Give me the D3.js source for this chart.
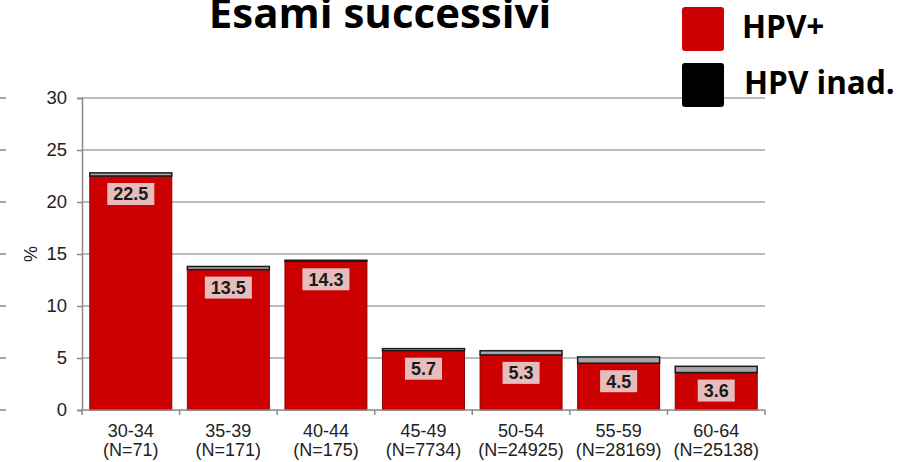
<!DOCTYPE html>
<html>
<head>
<meta charset="utf-8">
<script src="https://cdn.jsdelivr.net/npm/d3@7"></script>
<style>
  html, body { margin: 0; padding: 0; background: #fff; }
  svg { display: block; }
</style>
</head>
<body>
<div id="chart"></div>
<script>
// dati
const categories = ['30-34', '35-39', '40-44', '45-49', '50-54', '55-59', '60-64'];
const nLabels = ['(N=71)', '(N=171)', '(N=175)', '(N=7734)', '(N=24925)', '(N=28169)', '(N=25138)'];
const hpvPos = [22.5, 13.5, 14.3, 5.7, 5.3, 4.5, 3.6];
const hpvInad = [0.3, 0.3, 0.1, 0.2, 0.4, 0.6, 0.6];
const yTicks = [0, 5, 10, 15, 20, 25, 30];
const legendLabels = ['HPV+', 'HPV inad.'];

const width = 909;
const height = 462;
const red = '#cc0000';
const axisFont = '"Liberation Sans", Arial, sans-serif';

const svg = d3.select('#chart')
  .append('svg')
  .attr('width', width)
  .attr('height', height);

const x = d3.scaleBand()
  .domain(categories)
  .range([82, 765])
  .paddingInner(0.16)
  .paddingOuter(0.08);

const y = d3.scaleLinear()
  .domain([0, 30])
  .range([410, 98]);

// griglia orizzontale
svg.append('g')
  .selectAll('line')
  .data(yTicks.filter(d => d > 0))
  .enter()
  .append('line')
  .attr('x1', 82)
  .attr('x2', 765)
  .attr('y1', d => y(d))
  .attr('y2', d => y(d))
  .attr('stroke', '#a6a6a6')
  .attr('stroke-width', 1.5);

// pezzo dell'asse di un altro grafico (tagliato a sinistra)
svg.append('g')
  .selectAll('line')
  .data(yTicks)
  .enter()
  .append('line')
  .attr('x1', 0)
  .attr('x2', 6)
  .attr('y1', d => y(d))
  .attr('y2', d => y(d))
  .attr('stroke', '#888')
  .attr('stroke-width', 1.5);

// asse y
const yAxis = svg.append('g')
  .attr('transform', 'translate(82,0)')
  .call(d3.axisLeft(y).tickValues(yTicks).tickSize(5).tickPadding(10));
yAxis.select('.domain').attr('stroke', '#888').attr('stroke-width', 1.5);
yAxis.selectAll('.tick line').attr('stroke', '#888').attr('stroke-width', 1.5);
yAxis.selectAll('text')
  .attr('fill', '#222')
  .style('font-family', axisFont)
  .style('font-size', '18.5px');

svg.append('text')
  .attr('transform', `translate(37,${y(15)}) rotate(-90)`)
  .attr('text-anchor', 'middle')
  .attr('fill', '#222')
  .style('font-family', axisFont)
  .style('font-size', '18px')
  .text('%');

// barre HPV+
svg.append('g')
  .selectAll('rect')
  .data(categories)
  .enter()
  .append('rect')
  .attr('x', d => x(d))
  .attr('y', (d, i) => y(hpvPos[i]))
  .attr('width', x.bandwidth())
  .attr('height', (d, i) => y(0) - y(hpvPos[i]))
  .attr('fill', red)
  .attr('stroke', '#8a0000')
  .attr('stroke-width', 1);

// barre HPV inadeguato
svg.append('g')
  .selectAll('rect')
  .data(categories)
  .enter()
  .append('rect')
  .attr('x', d => x(d))
  .attr('y', (d, i) => y(hpvPos[i] + hpvInad[i]))
  .attr('width', x.bandwidth())
  .attr('height', (d, i) => y(hpvPos[i]) - y(hpvPos[i] + hpvInad[i]))
  .attr('fill', '#a6a6a6')
  .attr('stroke', '#1a1a1a')
  .attr('stroke-width', 1.5);

// asse x
const step = x.step();
const gap = step - x.bandwidth();
const bounds = categories.map(c => x(c) - gap / 2).concat([x(categories[categories.length - 1]) + x.bandwidth() + gap / 2]);
svg.append('line')
  .attr('x1', 82).attr('x2', 765)
  .attr('y1', y(0)).attr('y2', y(0))
  .attr('stroke', '#888').attr('stroke-width', 1.5);
svg.append('g')
  .selectAll('line')
  .data(bounds)
  .enter()
  .append('line')
  .attr('x1', d => d).attr('x2', d => d)
  .attr('y1', y(0)).attr('y2', y(0) + 5)
  .attr('stroke', '#888').attr('stroke-width', 1.5);

const xLabels = svg.append('g')
  .selectAll('text')
  .data(categories)
  .enter()
  .append('text')
  .attr('x', d => x(d) + x.bandwidth() / 2)
  .attr('text-anchor', 'middle')
  .attr('fill', '#222')
  .style('font-family', axisFont)
  .style('font-size', '18px');
xLabels.append('tspan')
  .attr('x', d => x(d) + x.bandwidth() / 2)
  .attr('y', 437)
  .text(d => d);
xLabels.append('tspan')
  .attr('x', d => x(d) + x.bandwidth() / 2)
  .attr('y', 456)
  .text((d, i) => nLabels[i]);

// etichette valori
const labels = svg.append('g')
  .selectAll('g')
  .data(categories)
  .enter()
  .append('g')
  .attr('transform', (d, i) => `translate(${x(d) + x.bandwidth() / 2},${y(hpvPos[i]) + 18})`);
labels.append('rect').attr('fill', '#e6bcbc');
labels.append('text')
  .attr('text-anchor', 'middle')
  .attr('dy', '0.36em')
  .attr('fill', '#1a1a1a')
  .style('font-family', axisFont)
  .style('font-size', '18px')
  .style('font-weight', 'bold')
  .text((d, i) => hpvPos[i].toFixed(1));
labels.each(function() {
  const g = d3.select(this);
  const w = g.select('text').node().getComputedTextLength();
  g.select('rect')
    .attr('x', -w / 2 - 6)
    .attr('y', -11)
    .attr('width', w + 12)
    .attr('height', 22);
});

// titolo
svg.append('text')
  .attr('x', 380)
  .attr('y', 28)
  .attr('text-anchor', 'middle')
  .attr('fill', '#000')
  .style('font-family', '"Open Sans", "Noto Sans", sans-serif')
  .style('font-size', '42px')
  .style('font-weight', 'bold')
  .text('Esami successivi');

// legenda
const legendColors = [red, '#000'];
const legend = svg.append('g')
  .selectAll('g')
  .data(legendLabels)
  .enter()
  .append('g')
  .attr('transform', (d, i) => `translate(682,${7 + i * 56})`);
legend.append('rect')
  .attr('width', 42)
  .attr('height', 44)
  .attr('rx', 3)
  .attr('fill', (d, i) => legendColors[i]);
legend.append('text')
  .attr('x', (d, i) => i === 0 ? 60 : 62)
  .attr('y', 31)
  .attr('fill', '#000')
  .style('font-family', '"Open Sans", "Noto Sans", sans-serif')
  .style('font-size', '31.5px')
  .style('font-weight', 'bold')
  .text(d => d);
</script>
</body>
</html>
